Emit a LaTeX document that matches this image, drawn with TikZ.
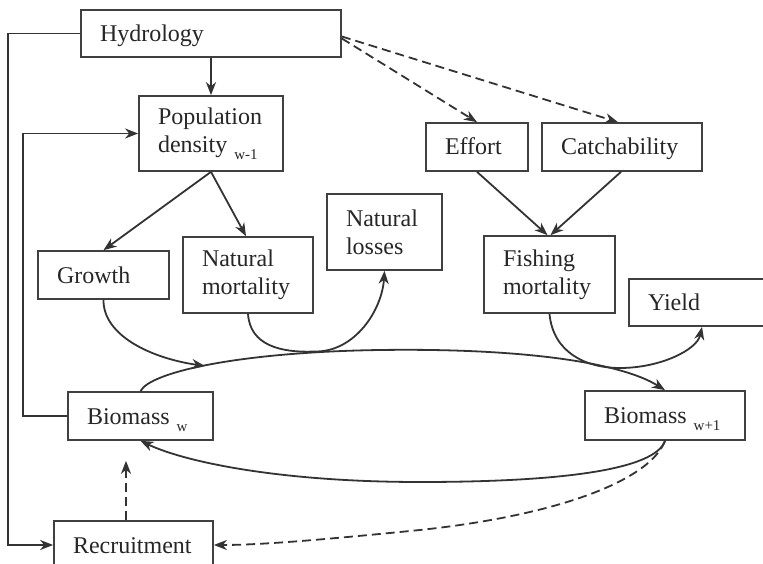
\documentclass[tikz,border=0pt]{standalone}
\usepackage{fontspec}
\setmainfont{Liberation Serif}
\usetikzlibrary{arrows.meta}
\newcommand{\mysub}[1]{\hspace{7pt}\raisebox{-7pt}{\fontsize{15}{15}\selectfont #1}}
\begin{document}
\begin{tikzpicture}[x=1pt,y=-1pt,
  bx/.style={draw=black!75, line width=1.7pt, inner xsep=19pt, inner ysep=0pt,
    align=left, font=\fontsize{24}{28}\selectfont, text=black!85},
  one/.style={text height=16pt, text depth=0pt},
  arr/.style={line width=1.8pt, draw=black!80,
    -{Stealth[length=13pt,width=10pt,inset=4pt]}},
  dsh/.style={dash pattern=on 9pt off 5pt}]
\useasboundingbox (0,0) rectangle (763,564);
\clip (0,0) rectangle (763,564);

% boxes
\node[bx,one,text width=222pt,minimum height=47pt] (hyd) at (211,33.5) {Hydrology};
\node[bx,text width=106pt,minimum height=75pt] (pop) at (211,133.5) {Population\\density\mysub{w-1}};
\node[bx,one,text width=64pt,minimum height=48pt] (eff) at (477,147) {Effort};
\node[bx,one,text width=122pt,minimum height=48pt] (cat) at (622,147) {Catchability};
\node[bx,one,text width=93pt,minimum height=48pt] (gro) at (103.5,275) {Growth};
\node[bx,text width=92pt,minimum height=76pt] (nmo) at (248,275) {Natural\\mortality};
\node[bx,text width=77pt,minimum height=76pt] (nlo) at (384.5,232) {Natural\\losses};
\node[bx,text width=93pt,minimum height=77pt] (fmo) at (549.5,274.5) {Fishing\\mortality};
\node[bx,one,text width=108pt,minimum height=47pt] (yie) at (702,302.5) {Yield};
\node[bx,one,text width=107pt,minimum height=48pt] (bw) at (140.5,416) {Biomass\mysub{w}};
\node[bx,one,text width=122pt,minimum height=49pt] (bw1) at (665,415.5) {Biomass\mysub{w+1}};
\node[bx,one,text width=121pt,minimum height=48pt] (rec) at (133.5,545) {Recruitment};

% junction points on the flows
\coordinate (tm) at (380,350);
\coordinate (gj) at (205,366);
\coordinate (nl) at (315,351.5);
\coordinate (fl) at (620,368);
\coordinate (bm) at (420,482);
\coordinate (dm) at (420,530);

% straight connectors
\draw[arr] (hyd.south) -- (pop.north);
\draw[arr] (hyd.west) -- ++(-72,0) |- (rec.west);
\draw[arr] (bw.west) -- ++(-44,0) |- (pop.west);
\draw[arr,dsh] ([yshift=-5pt]hyd.east) -- (eff.north);
\draw[arr,dsh] ([yshift=-3pt]hyd.east) -- ([xshift=-4pt]cat.north);
\draw[arr] (pop.south) -- (gro.north);
\draw[arr] (pop.south) -- ([xshift=-2pt]nmo.north);
\draw[arr] (eff.south) -- ([xshift=-2pt]fmo.north);
\draw[arr] ([xshift=-1pt]cat.south) -- ([xshift=1pt]fmo.north);

% biomass flow (top)
\draw[arr] (bw.north) .. controls (150,372) and (240,352) .. (tm)
  .. controls (520,348) and (620,362) .. (bw1.north);
% growth into flow
\draw[arr] (gro.south) .. controls (103,335) and (150,358) .. (gj);
% natural mortality to natural losses
\draw[arr] (nmo.south) .. controls (250,345) and (280,353) .. (nl)
  .. controls (355,352) and (382,310) .. (nlo.south);
% fishing mortality to yield
\draw[arr] (fmo.south) .. controls (553,352) and (585,368) .. (fl)
  .. controls (660,368) and (697,350) .. (yie.south);
% biomass return (bottom)
\draw[arr] (bw1.south) .. controls (655,470) and (560,482) .. (bm)
  .. controls (280,482) and (185,462) .. (bw.south);
% dashed to recruitment
\draw[arr,dsh] (bw1.south) .. controls (650,480) and (560,515) .. (dm)
  .. controls (320,540) and (260,545) .. (rec.east);
\draw[arr,dsh] ([xshift=-7.5pt]rec.north) -- ([xshift=-14.5pt,yshift=-20pt]bw.south);
\end{tikzpicture}
\end{document}
